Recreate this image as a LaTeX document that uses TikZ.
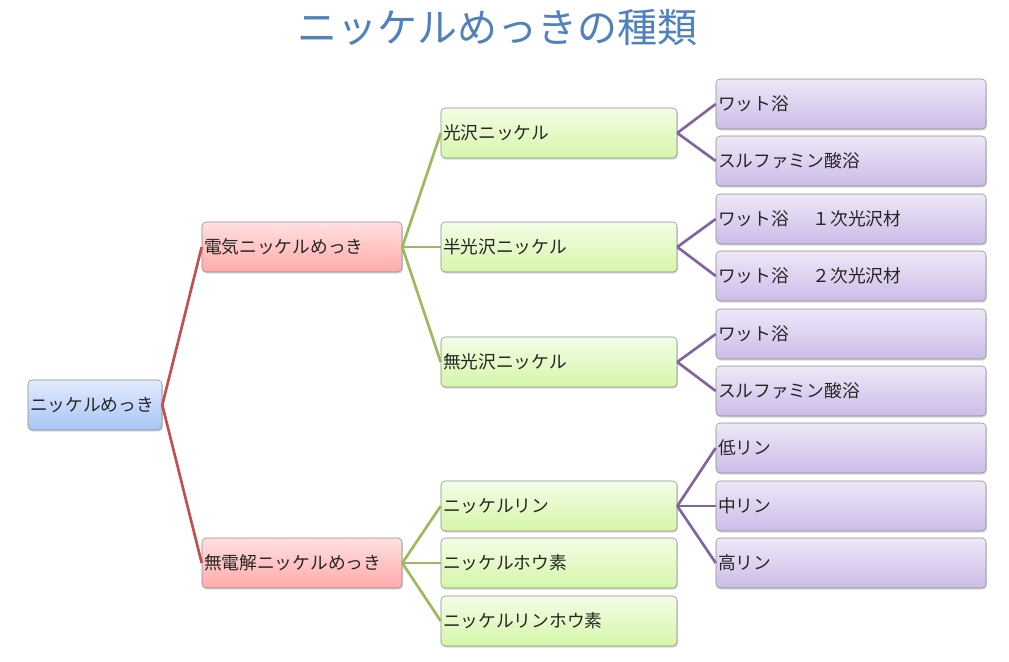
\documentclass[tikz,border=0pt]{standalone}
\usepackage{fontspec}
\setmainfont{Noto Sans CJK JP}
\usetikzlibrary{shadows}
\definecolor{titleblue}{HTML}{4F81BD}
\definecolor{linered}{HTML}{C0504D}
\definecolor{linegreen}{HTML}{9BBB59}
\definecolor{linepurple}{HTML}{8064A2}
\definecolor{bluetop}{HTML}{E2EBFD}
\definecolor{bluebottom}{HTML}{A8C4F6}
\definecolor{redtop}{HTML}{FFE0E0}
\definecolor{redbottom}{HTML}{FFAAAA}
\definecolor{greentop}{HTML}{F4FDE6}
\definecolor{greenbottom}{HTML}{D5F6A9}
\definecolor{purpletop}{HTML}{EEE8F8}
\definecolor{purplebottom}{HTML}{CCBCE8}
\begin{document}
\begin{tikzpicture}[x = 0.75pt, y = -0.75pt]
			    \tikzstyle{box}=[draw=black!45,line width = .4pt,rounded corners = 3pt,minimum height = 37.5pt,inner sep = 1.5pt,align = left,font = \fontsize{13.3}{15}\selectfont,text = black!85,drop shadow = {shadow xshift = .6pt,shadow yshift = -1.2pt,opacity = .3}]
			    \tikzstyle{rootbox}=[box,top color = bluetop,bottom color = bluebottom,text width = 97.5pt,minimum width = 100.5pt]
			    \tikzstyle{redbox}=[box,top color = redtop,bottom color = redbottom,text width = 147pt,minimum width = 150pt]
			    \tikzstyle{greenbox}=[box,top color = greentop,bottom color = greenbottom,text width = 174pt,minimum width = 177pt]
			    \tikzstyle{purplebox}=[box,top color = purpletop,bottom color = purplebottom,text width = 199.5pt,minimum width = 202.5pt]
			    \tikzstyle{edge1}=[draw,line width = 2pt,-,linered]
			    \tikzstyle{edge2}=[draw,line width = 2pt,-,linegreen]
			    \tikzstyle{edge3}=[draw,line width = 2pt,-,linepurple]
			    \useasboundingbox (0,0) rectangle (1009,661);
			    \node[text = titleblue,font = \fontsize{30}{33}\selectfont] (title) at (497,28) {ニッケルめっきの種類};
			    \node[rootbox] (root) at (95,405) {ニッケルめっき};
			    \node[redbox] (elec) at (302,247) {電気ニッケルめっき};
			    \node[redbox] (electroless) at (302,563) {無電解ニッケルめっき};
			    \node[greenbox] (bright) at (559,133) {光沢ニッケル};
			    \node[greenbox] (semibright) at (559,247) {半光沢ニッケル};
			    \node[greenbox] (matte) at (559,362) {無光沢ニッケル};
			    \node[greenbox] (nip) at (559,506) {ニッケルリン};
			    \node[greenbox] (nib) at (559,563) {ニッケルホウ素};
			    \node[greenbox] (nipb) at (559,621) {ニッケルリンホウ素};
			    \node[purplebox] (wattA) at (851,104) {ワット浴};
			    \node[purplebox] (sulfA) at (851,161) {スルファミン酸浴};
			    \node[purplebox] (wattB) at (851,219) {ワット浴　 １次光沢材};
			    \node[purplebox] (wattC) at (851,276) {ワット浴　 ２次光沢材};
			    \node[purplebox] (wattD) at (851,334) {ワット浴};
			    \node[purplebox] (sulfD) at (851,391) {スルファミン酸浴};
			    \node[purplebox] (lowp) at (851,448) {低リン};
			    \node[purplebox] (midp) at (851,506) {中リン};
			    \node[purplebox] (highp) at (851,563) {高リン};
			    \draw[edge1] (root.east) -- (elec.west);
			    \draw[edge1] (root.east) -- (electroless.west);
			    \draw[edge2] (elec.east) -- (bright.west);
			    \draw[edge2] (elec.east) -- (semibright.west);
			    \draw[edge2] (elec.east) -- (matte.west);
			    \draw[edge2] (electroless.east) -- (nip.west);
			    \draw[edge2] (electroless.east) -- (nib.west);
			    \draw[edge2] (electroless.east) -- (nipb.west);
			    \draw[edge3] (bright.east) -- (wattA.west);
			    \draw[edge3] (bright.east) -- (sulfA.west);
			    \draw[edge3] (semibright.east) -- (wattB.west);
			    \draw[edge3] (semibright.east) -- (wattC.west);
			    \draw[edge3] (matte.east) -- (wattD.west);
			    \draw[edge3] (matte.east) -- (sulfD.west);
			    \draw[edge3] (nip.east) -- (lowp.west);
			    \draw[edge3] (nip.east) -- (midp.west);
			    \draw[edge3] (nip.east) -- (highp.west);
			\end{tikzpicture}
\end{document}
